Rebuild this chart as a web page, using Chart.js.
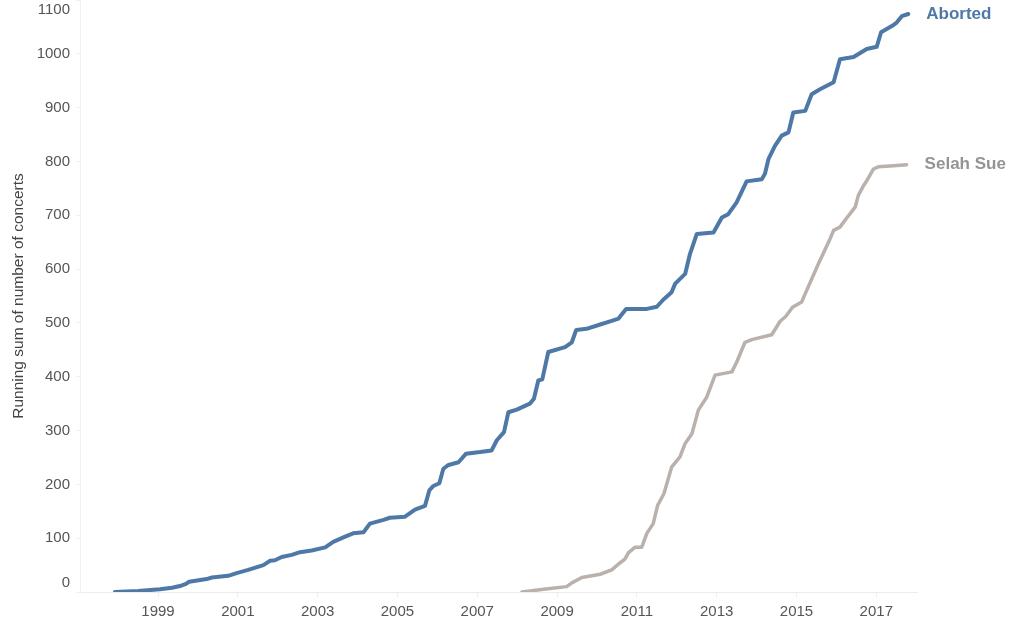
<!DOCTYPE html>
<html>
<head>
<meta charset="utf-8">
<script src="https://cdn.jsdelivr.net/npm/chart.js@4.4.1/dist/chart.umd.min.js"></script>
<style>
  html, body { margin: 0; padding: 0; background: #fff; }
  #wrap { width: 1024px; height: 632px; }
</style>
</head>
<body>
<div id="wrap"><canvas id="chart" width="1024" height="632"></canvas></div>
<script>
// Aborted
const abortedYears = [1997.92, 1998.5, 1999.05, 1999.35, 1999.55, 1999.7, 1999.78, 2000.22, 2000.35, 2000.76,
  2000.97, 2001.26, 2001.64, 2001.81, 2001.93, 2002.10, 2002.35, 2002.56, 2002.85, 2003.19,
  2003.39, 2003.69, 2003.89, 2004.15, 2004.31, 2004.65, 2004.81, 2005.19, 2005.44, 2005.69,
  2005.80, 2005.90, 2006.05, 2006.15, 2006.28, 2006.53, 2006.72, 2007.07, 2007.36, 2007.49,
  2007.67, 2007.78, 2007.99, 2008.32, 2008.42, 2008.53, 2008.63, 2008.78, 2009.2, 2009.37,
  2009.48, 2009.74, 2010.08, 2010.33, 2010.54, 2010.73, 2011.25, 2011.50, 2011.66, 2011.87,
  2011.96, 2012.21, 2012.33, 2012.50, 2012.92, 2013.13, 2013.29, 2013.50, 2013.75, 2014.13,
  2014.21, 2014.30, 2014.46, 2014.63, 2014.80, 2014.92, 2015.22, 2015.38, 2015.59, 2015.93,
  2016.09, 2016.43, 2016.76, 2017.01, 2017.12, 2017.40, 2017.51, 2017.64, 2017.80];
const abortedCounts = [0, 2, 5, 8, 11, 15, 19, 24, 27, 30,
  35, 41, 50, 58, 59, 65, 69, 74, 77, 83,
  93, 103, 109, 111, 127, 134, 138, 140, 153, 160,
  189, 197, 202, 229, 236, 241, 257, 260, 263, 282,
  297, 334, 339, 350, 359, 393, 395, 446, 455, 464,
  487, 489, 497, 503, 508, 526, 526, 530, 543, 557,
  573, 591, 628, 665, 668, 696, 702, 724, 763, 767,
  777, 805, 829, 848, 854, 891, 894, 925, 934, 947,
  990, 994, 1009, 1013, 1040, 1052, 1058, 1070, 1074];

// Selah Sue
const selahYears = [2008.12, 2008.66, 2009.24, 2009.37, 2009.62, 2010.08, 2010.37, 2010.54, 2010.70, 2010.79,
  2010.95, 2011.12, 2011.25, 2011.41, 2011.52, 2011.68, 2011.87, 2012.08, 2012.21, 2012.38,
  2012.54, 2012.75, 2012.96, 2013.38, 2013.50, 2013.71, 2013.88, 2014.38, 2014.59, 2014.73,
  2014.90, 2015.13, 2015.33, 2015.55, 2015.84, 2015.93, 2016.09, 2016.30, 2016.47, 2016.55,
  2016.68, 2016.76, 2016.93, 2017.05, 2017.43, 2017.76];
const selahCounts = [0, 5, 10, 17, 27, 33, 41, 52, 61, 73,
  83, 83, 109, 127, 161, 183, 232, 251, 276, 294,
  338, 362, 403, 409, 427, 464, 469, 478, 503, 512,
  529, 539, 573, 610, 656, 672, 678, 699, 715, 737,
  755, 764, 786, 790, 792, 794];

const seriesNames = ["Aborted", "Selah Sue"];
const xTicks = [1999, 2001, 2003, 2005, 2007, 2009, 2011, 2013, 2015, 2017];
const yTicks = [0, 100, 200, 300, 400, 500, 600, 700, 800, 900, 1000, 1100];

const azul = "#4e79a7";
const gris = "#bab0ac";
const textoGris = "#555555";

function puntos(xs, ys) {
  return xs.map((x, i) => ({ x: x, y: ys[i] }));
}

// etiquetas de eje Y (estilo Tableau: las de los extremos quedan dentro)
const etiquetasY = {
  id: "etiquetasY",
  afterDraw(chart) {
    const ctx = chart.ctx;
    const y = chart.scales.y;
    const area = chart.chartArea;
    ctx.save();
    ctx.font = "15px 'Liberation Sans', Arial, sans-serif";
    ctx.fillStyle = textoGris;
    ctx.textAlign = "right";
    ctx.textBaseline = "middle";
    yTicks.forEach((v) => {
      let py = y.getPixelForValue(v);
      py = Math.min(Math.max(py, area.top + 10), area.bottom - 9);
      ctx.fillText(String(v), 70, py);
    });
    ctx.restore();
  },
};

// nombre de la serie al final de cada línea
const etiquetasSerie = {
  id: "etiquetasSerie",
  afterDatasetsDraw(chart) {
    const ctx = chart.ctx;
    ctx.save();
    ctx.font = "bold 17px 'Liberation Sans', Arial, sans-serif";
    ctx.textAlign = "left";
    ctx.textBaseline = "middle";
    chart.data.datasets.forEach((ds, i) => {
      const meta = chart.getDatasetMeta(i);
      const ultimo = meta.data[meta.data.length - 1];
      ctx.fillStyle = i === 0 ? azul : "#949494";
      ctx.fillText(ds.label, ultimo.x + 18, ultimo.y);
    });
    ctx.restore();
  },
};

new Chart(document.getElementById("chart"), {
  type: "line",
  data: {
    datasets: [
      {
        label: seriesNames[0],
        data: puntos(abortedYears, abortedCounts),
        borderColor: azul,
        borderWidth: 4,
        pointRadius: 0,
        tension: 0,
        borderJoinStyle: "round",
        borderCapStyle: "round",
      },
      {
        label: seriesNames[1],
        data: puntos(selahYears, selahCounts),
        borderColor: gris,
        borderWidth: 3.5,
        pointRadius: 0,
        tension: 0,
        borderJoinStyle: "round",
        borderCapStyle: "round",
      },
    ],
  },
  options: {
    responsive: false,
    animation: false,
    layout: { padding: { left: 0, right: 107, top: 0, bottom: 0 } },
    plugins: {
      legend: { display: false },
      tooltip: { enabled: false },
    },
    scales: {
      x: {
        type: "linear",
        min: 1997.045,
        max: 2018.02,
        afterBuildTicks: (scale) => {
          scale.ticks = xTicks.map((v) => ({ value: v }));
        },
        afterFit: (scale) => {
          scale.height = 40;
        },
        ticks: {
          callback: (v) => String(v),
          color: textoGris,
          font: { size: 15, family: "'Liberation Sans', Arial, sans-serif" },
          padding: 6,
          maxRotation: 0,
        },
        grid: { drawOnChartArea: false, drawTicks: true, tickLength: 5, color: "#ececec" },
        border: { color: "#ececec" },
      },
      y: {
        type: "linear",
        min: 0,
        max: 1100,
        afterBuildTicks: (scale) => {
          scale.ticks = yTicks.map((v) => ({ value: v }));
        },
        afterFit: (scale) => {
          scale.width = 80;
        },
        ticks: { display: false },
        grid: { drawOnChartArea: false, drawTicks: true, tickLength: 4, color: "#f0f0f0" },
        border: { color: "#f0f0f0" },
        title: {
          display: true,
          text: "Running sum of number of concerts",
          color: "#444444",
          font: { size: 15.5, family: "'Liberation Sans', Arial, sans-serif" },
          padding: { top: 9, bottom: 0 },
        },
      },
    },
  },
  plugins: [etiquetasY, etiquetasSerie],
});
</script>
</body>
</html>
